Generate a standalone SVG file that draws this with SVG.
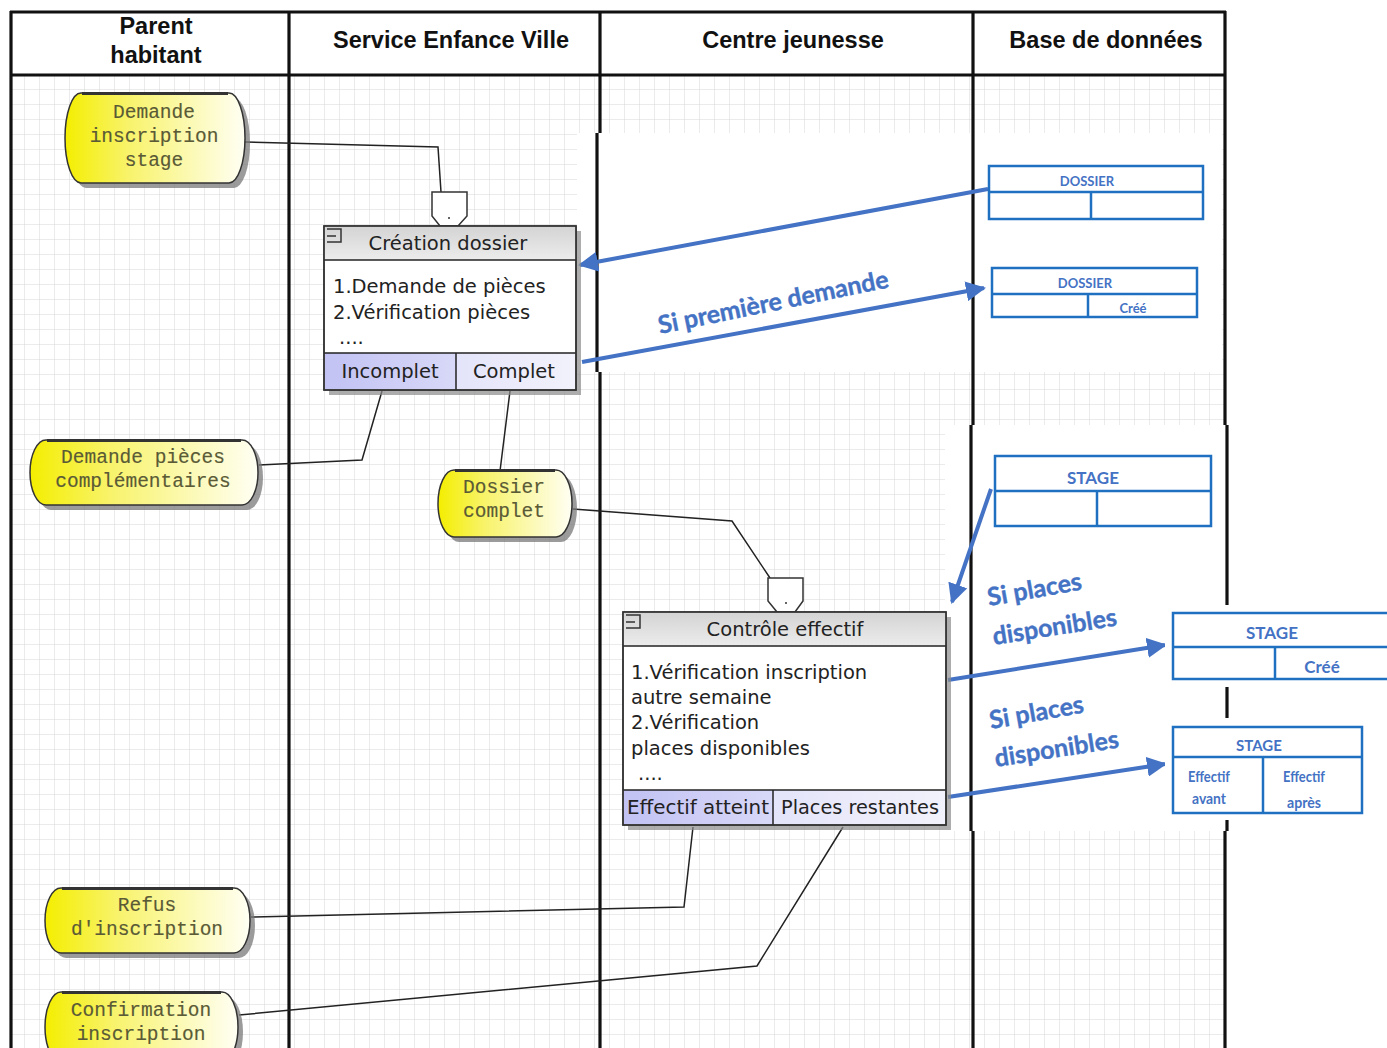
<svg xmlns="http://www.w3.org/2000/svg" width="1387" height="1048" viewBox="0 0 1387 1048">
<defs>
<pattern id="grid" x="10" y="75" width="15" height="15" patternUnits="userSpaceOnUse">
<path d="M15 0 V15 M0 15 H15" fill="none" stroke="#d6d6d6" stroke-width="1"/>
</pattern>
<linearGradient id="yel" x1="0" y1="0" x2="1" y2="0">
<stop offset="0" stop-color="#f4ee00"/>
<stop offset="0.35" stop-color="#f8f36a"/>
<stop offset="1" stop-color="#fffff4"/>
</linearGradient>
<linearGradient id="hdr" x1="0" y1="0" x2="0" y2="1">
<stop offset="0" stop-color="#d4d4d4"/>
<stop offset="1" stop-color="#ececec"/>
</linearGradient>
<linearGradient id="lav1" x1="0" y1="0" x2="1" y2="0">
<stop offset="0" stop-color="#c2c2f4"/>
<stop offset="1" stop-color="#d8d8f8"/>
</linearGradient>
<linearGradient id="lav2" x1="0" y1="0" x2="1" y2="0">
<stop offset="0" stop-color="#e4e4fa"/>
<stop offset="1" stop-color="#f2f2fc"/>
</linearGradient>
<marker id="ah" viewBox="0 0 10 10" refX="9" refY="5" markerWidth="5" markerHeight="5" markerUnits="strokeWidth" orient="auto">
<path d="M0 0 L10 5 L0 10 Z" fill="#4472c4"/>
</marker>
</defs>
<style>
.lane{stroke:#111;stroke-width:3.2;fill:none}
.hd{font-family:"Liberation Sans",Arial,sans-serif;font-weight:bold;font-size:23.5px;fill:#111;text-anchor:middle}
.ev{fill:url(#yel);stroke:#333;stroke-width:1.5}
.evsh{fill:#7a7a7a;opacity:0.75}
.evtop{stroke:#333;stroke-width:3}
.evt{font-family:"Liberation Mono","Courier New",monospace;font-size:19.5px;fill:#5a5a36;stroke:#5a5a36;stroke-width:0.15;text-anchor:middle}
.box{fill:#fff;stroke:#333;stroke-width:1.5}
.bsh{fill:#8a8a8a;opacity:0.7}
.pt{font-family:"DejaVu Sans",Verdana,sans-serif;font-size:19.5px;fill:#222}
.ptc{text-anchor:middle}
.con{fill:none;stroke:#222;stroke-width:1.5}
.shield{fill:#fff;stroke:#333;stroke-width:1.5}
.blu{fill:none;stroke:#4472c4;stroke-width:4;marker-end:url(#ah)}
.lbl{font-family:Lato,"Open Sans",sans-serif;font-weight:bold;font-size:25px;fill:#4472c4;stroke:#4472c4;stroke-width:0.4}
.tb{fill:#fff;stroke:#1f70c1;stroke-width:2.5}
.tl{stroke:#1f70c1;stroke-width:2.5}
.tt{font-family:Lato,"Open Sans",sans-serif;font-weight:bold;fill:#4472c4;text-anchor:middle}
</style>
<rect width="1387" height="1048" fill="#fff"/>
<rect x="10" y="75" width="1215" height="973" fill="url(#grid)"/>
<!-- pasted white patches -->
<rect x="577" y="133" width="645" height="239" fill="#fff"/>
<rect x="945" y="425" width="442" height="406" fill="#fff"/>

<g id="lanes">
<line class="lane" x1="10" y1="12" x2="1226" y2="12"/>
<line class="lane" x1="10" y1="75" x2="1226" y2="75"/>
<line class="lane" x1="11" y1="11" x2="11" y2="1048"/>
<line class="lane" x1="289" y1="11" x2="289" y2="1048"/>
<line class="lane" x1="600" y1="11" x2="600" y2="133"/>
<line class="lane" x1="597" y1="133" x2="597" y2="372"/>
<line class="lane" x1="600" y1="372" x2="600" y2="1048"/>
<line class="lane" x1="973" y1="11" x2="973" y2="425"/>
<line class="lane" x1="971" y1="425" x2="971" y2="831"/>
<line class="lane" x1="973" y1="831" x2="973" y2="1048"/>
<line class="lane" x1="1225" y1="11" x2="1225" y2="425"/>
<line class="lane" x1="1227" y1="425" x2="1227" y2="831"/>
<line class="lane" x1="1225" y1="831" x2="1225" y2="1048"/>
<text class="hd" x="156" y="34">Parent</text>
<text class="hd" x="156" y="63">habitant</text>
<text class="hd" x="451" y="48">Service Enfance Ville</text>
<text class="hd" x="793" y="48">Centre jeunesse</text>
<text class="hd" x="1106" y="48">Base de données</text>
</g>

<g id="connectors">
<polyline class="con" points="245,142 438,147 441,192"/>
<polyline class="con" points="382,391 362,460 259,465"/>
<polyline class="con" points="510,391 500,471"/>
<polyline class="con" points="573,509 732,521 770,578"/>
<polyline class="con" points="693,827 684,907 251,917"/>
<polyline class="con" points="843,827 757,966 239,1015"/>
<line class="blu" x1="988" y1="189" x2="580" y2="265"/>
<line class="blu" x1="582" y1="362" x2="984" y2="288"/>
<line class="blu" x1="991" y1="489" x2="952" y2="602"/>
<line class="blu" x1="948" y1="680" x2="1165" y2="645"/>
<line class="blu" x1="948" y1="797" x2="1165" y2="764"/>
<text class="lbl" transform="translate(660,334) rotate(-11.5)">Si première demande</text>
<text class="lbl" transform="translate(989,606) rotate(-10)">Si places</text>
<text class="lbl" transform="translate(994,645) rotate(-9)">disponibles</text>
<text class="lbl" transform="translate(991,729) rotate(-10)">Si places</text>
<text class="lbl" transform="translate(996,767) rotate(-9)">disponibles</text>
</g>

<g id="n-demande-inscription">
<path class="evsh" transform="translate(5,5)" d="M81 93 H229 A16 45 0 0 1 229 183 H81 A16 45 0 0 1 81 93 Z"/>
<path class="ev" d="M81 93 H229 A16 45 0 0 1 229 183 H81 A16 45 0 0 1 81 93 Z"/>
<line class="evtop" x1="82" y1="93.5" x2="228" y2="93.5"/>
<text class="evt" x="154" y="118">Demande</text>
<text class="evt" x="154" y="142">inscription</text>
<text class="evt" x="154" y="166">stage</text>
</g>

<g id="n-demande-pieces">
<path class="evsh" transform="translate(5,5)" d="M46 440 H242 A16 32.5 0 0 1 242 505 H46 A16 32.5 0 0 1 46 440 Z"/>
<path class="ev" d="M46 440 H242 A16 32.5 0 0 1 242 505 H46 A16 32.5 0 0 1 46 440 Z"/>
<line class="evtop" x1="47" y1="440.5" x2="241" y2="440.5"/>
<text class="evt" x="143" y="463">Demande pièces</text>
<text class="evt" x="143" y="487">complémentaires</text>
</g>

<g id="n-dossier-complet">
<path class="evsh" transform="translate(5,5)" d="M454 470 H556 A16 33.5 0 0 1 556 537 H454 A16 33.5 0 0 1 454 470 Z"/>
<path class="ev" d="M454 470 H556 A16 33.5 0 0 1 556 537 H454 A16 33.5 0 0 1 454 470 Z"/>
<line class="evtop" x1="455" y1="470.5" x2="555" y2="470.5"/>
<text class="evt" x="504" y="493">Dossier</text>
<text class="evt" x="504" y="517">complet</text>
</g>

<g id="n-refus">
<path class="evsh" transform="translate(5,5)" d="M61 888 H234 A16 32.5 0 0 1 234 953 H61 A16 32.5 0 0 1 61 888 Z"/>
<path class="ev" d="M61 888 H234 A16 32.5 0 0 1 234 953 H61 A16 32.5 0 0 1 61 888 Z"/>
<line class="evtop" x1="62" y1="888.5" x2="233" y2="888.5"/>
<text class="evt" x="147" y="911">Refus</text>
<text class="evt" x="147" y="935">d'inscription</text>
</g>

<g id="n-confirmation">
<path class="evsh" transform="translate(5,5)" d="M61 992 H222 A16 35 0 0 1 222 1062 H61 A16 35 0 0 1 61 992 Z"/>
<path class="ev" d="M61 992 H222 A16 35 0 0 1 222 1062 H61 A16 35 0 0 1 61 992 Z"/>
<line class="evtop" x1="62" y1="992.5" x2="221" y2="992.5"/>
<text class="evt" x="141" y="1016">Confirmation</text>
<text class="evt" x="141" y="1040">inscription</text>
</g>

<g id="p-creation-dossier">
<path class="shield" d="M432 192 H467 V216 L458 226 H440 L432 216 Z"/>
<circle cx="449" cy="218" r="1" fill="#333"/>
<rect class="bsh" x="329" y="231" width="252" height="164"/>
<rect class="box" x="324" y="226" width="252" height="164"/>
<rect x="324.75" y="226.75" width="250.5" height="33" fill="url(#hdr)"/>
<line class="con" x1="324" y1="260" x2="576" y2="260"/>
<rect x="325" y="353" width="131" height="36" fill="url(#lav1)"/>
<rect x="456" y="353" width="119" height="36" fill="url(#lav2)"/>
<line class="con" x1="324" y1="353" x2="576" y2="353"/>
<line class="con" x1="456" y1="353" x2="456" y2="390"/>
<rect x="324" y="226" width="252" height="164" fill="none" stroke="#333" stroke-width="1.5"/>
<path d="M327 229 H341 V242 H327 M327 236 H336" fill="none" stroke="#333" stroke-width="1.5"/>
<text class="pt ptc" x="448" y="250">Création dossier</text>
<text class="pt" x="333" y="293">1.Demande de pièces</text>
<text class="pt" x="333" y="319">2.Vérification pièces</text>
<text class="pt" x="339" y="344">....</text>
<text class="pt ptc" x="390" y="378">Incomplet</text>
<text class="pt ptc" x="514" y="378">Complet</text>
</g>

<g id="p-controle-effectif">
<path class="shield" d="M768 578 H803 V601 L795 612 H777 L768 601 Z"/>
<circle cx="786" cy="603" r="1" fill="#333"/>
<rect class="bsh" x="628" y="617" width="323" height="213"/>
<rect class="box" x="623" y="612" width="323" height="213"/>
<rect x="623.75" y="612.75" width="321.5" height="33" fill="url(#hdr)"/>
<line class="con" x1="623" y1="646" x2="946" y2="646"/>
<rect x="624" y="790" width="149" height="34" fill="url(#lav1)"/>
<rect x="773" y="790" width="172" height="34" fill="url(#lav2)"/>
<line class="con" x1="623" y1="790" x2="946" y2="790"/>
<line class="con" x1="773" y1="790" x2="773" y2="825"/>
<rect x="623" y="612" width="323" height="213" fill="none" stroke="#333" stroke-width="1.5"/>
<path d="M626 615 H640 V628 H626 M626 622 H635" fill="none" stroke="#333" stroke-width="1.5"/>
<text class="pt ptc" x="785" y="636">Contrôle effectif</text>
<text class="pt" x="631" y="679">1.Vérification inscription</text>
<text class="pt" x="631" y="704">autre semaine</text>
<text class="pt" x="631" y="729">2.Vérification</text>
<text class="pt" x="631" y="755">places disponibles</text>
<text class="pt" x="638" y="780">....</text>
<text class="pt ptc" x="698" y="814" textLength="142" lengthAdjust="spacingAndGlyphs">Effectif atteint</text>
<text class="pt ptc" x="860" y="814" textLength="158" lengthAdjust="spacingAndGlyphs">Places restantes</text>
</g>

<g id="t-dossier-1">
<rect class="tb" x="989" y="166" width="214" height="53"/>
<line class="tl" x1="989" y1="192" x2="1203" y2="192"/>
<line class="tl" x1="1091" y1="192" x2="1091" y2="219"/>
<text class="tt" x="1087" y="186" font-size="13">DOSSIER</text>
</g>

<g id="t-dossier-2">
<rect class="tb" x="992" y="268" width="205" height="49"/>
<line class="tl" x1="992" y1="294" x2="1197" y2="294"/>
<line class="tl" x1="1088" y1="294" x2="1088" y2="317"/>
<text class="tt" x="1085" y="288" font-size="13">DOSSIER</text>
<text class="tt" x="1133" y="313" font-size="13">Créé</text>
</g>

<g id="t-stage-1">
<rect class="tb" x="995" y="456" width="216" height="70"/>
<line class="tl" x1="995" y1="491" x2="1211" y2="491"/>
<line class="tl" x1="1097" y1="491" x2="1097" y2="526"/>
<text class="tt" x="1093" y="484" font-size="17">STAGE</text>
</g>

<g id="t-stage-2">
<rect x="1165" y="605" width="222" height="82" fill="#fff"/>
<rect class="tb" x="1173" y="613" width="216" height="66"/>
<line class="tl" x1="1173" y1="647" x2="1387" y2="647"/>
<line class="tl" x1="1275" y1="647" x2="1275" y2="679"/>
<text class="tt" x="1272" y="639" font-size="17">STAGE</text>
<text class="tt" x="1322" y="673" font-size="17">Créé</text>
</g>

<g id="t-stage-3">
<rect x="1165" y="718" width="205" height="102" fill="#fff"/>
<rect class="tb" x="1173" y="727" width="189" height="86"/>
<line class="tl" x1="1173" y1="757" x2="1362" y2="757"/>
<line class="tl" x1="1263" y1="757" x2="1263" y2="813"/>
<text class="tt" x="1259" y="751" font-size="15">STAGE</text>
<text class="tt" x="1209" y="782" font-size="15" textLength="42" lengthAdjust="spacingAndGlyphs">Effectif</text>
<text class="tt" x="1209" y="804" font-size="15" textLength="34" lengthAdjust="spacingAndGlyphs">avant</text>
<text class="tt" x="1304" y="782" font-size="15" textLength="42" lengthAdjust="spacingAndGlyphs">Effectif</text>
<text class="tt" x="1304" y="808" font-size="15" textLength="34" lengthAdjust="spacingAndGlyphs">après</text>
</g>
</svg>
